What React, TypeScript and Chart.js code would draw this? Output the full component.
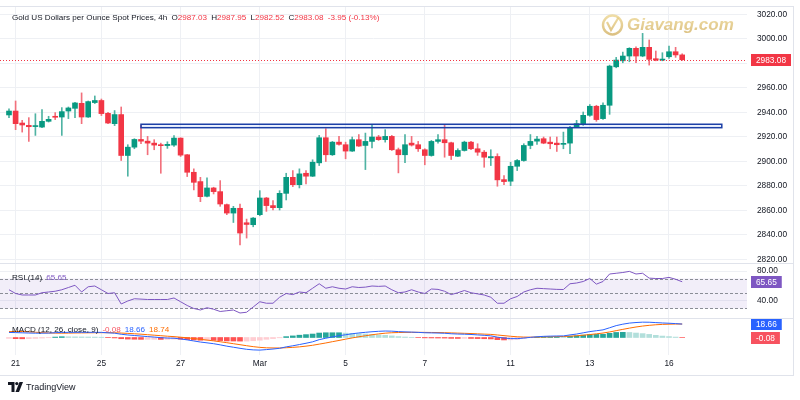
import React, { useEffect, useRef } from "react";
import { Chart, registerables } from "chart.js";

Chart.register(...registerables);

const FONT = '"Liberation Sans", Arial, sans-serif';
const TEXT = "#131722";
const GRID = "#eef0f4";
const LINE = "#e0e3eb";
const UP = "#089981";
const DOWN = "#f23645";
const UP_WICK = "#4fb3a3";
const DOWN_WICK = "#f2707c";

// ---------- DATA ----------
const opens = [
  2938.0, 2941.2, 2931.4, 2929.5, 2928.5, 2928.1, 2932.8, 2936.9, 2936.3, 2941.2,
  2943.4, 2947.5, 2936.3, 2948.1, 2949.8, 2939.3, 2930.9, 2938.3, 2904.9, 2911.7,
  2918.0, 2916.6, 2915.0, 2913.7, 2913.0, 2913.4, 2919.1, 2905.5, 2891.2, 2883.6,
  2871.6, 2878.4, 2875.4, 2864.8, 2857.9, 2861.8, 2850.0, 2848.4, 2856.6, 2870.2,
  2864.0, 2862.3, 2874.0, 2887.1, 2881.1, 2890.4, 2888.0, 2898.9, 2919.4, 2905.5,
  2915.8, 2913.7, 2908.5, 2917.8, 2913.1, 2916.4, 2920.0, 2917.8, 2920.5, 2909.6,
  2905.5, 2915.0, 2913.7, 2909.6, 2904.9, 2916.4, 2917.8, 2915.3, 2904.3, 2909.0,
  2915.8, 2910.4, 2907.6, 2903.0, 2904.1, 2885.2, 2883.9, 2896.1, 2900.8, 2913.1,
  2916.6, 2918.6, 2915.8, 2915.0, 2914.0, 2915.0, 2928.1, 2930.1, 2937.7, 2945.1,
  2935.0, 2945.9, 2977.3, 2982.2, 2986.1, 2992.4, 2986.1, 2993.2, 2983.9, 2982.8,
  2985.5, 2989.6, 2987.03,
];
const highs = [
  2942.9, 2949.4, 2933.6, 2935.8, 2939.0, 2942.4, 2936.9, 2939.9, 2944.0, 2944.5,
  2948.4, 2956.0, 2949.4, 2953.5, 2951.0, 2940.2, 2941.6, 2944.5, 2913.7, 2918.6,
  2929.5, 2920.5, 2917.8, 2915.0, 2916.1, 2921.1, 2919.3, 2905.7, 2894.0, 2887.1,
  2886.6, 2879.0, 2884.4, 2865.3, 2863.4, 2865.3, 2853.0, 2854.3, 2876.2, 2870.7,
  2868.0, 2876.2, 2890.4, 2892.6, 2894.0, 2892.6, 2901.4, 2921.3, 2926.8, 2916.4,
  2920.5, 2915.8, 2920.0, 2922.0, 2923.2, 2930.1, 2921.3, 2926.0, 2921.3, 2911.0,
  2922.0, 2920.5, 2916.4, 2910.4, 2917.2, 2922.0, 2930.3, 2915.8, 2910.4, 2916.6,
  2916.4, 2914.5, 2909.0, 2909.6, 2906.3, 2888.5, 2899.4, 2901.6, 2914.5, 2922.0,
  2920.5, 2920.0, 2920.0, 2920.0, 2924.0, 2928.7, 2933.6, 2940.4, 2946.5, 2945.9,
  2947.8, 2978.7, 2985.0, 2989.3, 2992.9, 2993.7, 3004.6, 2999.2, 2990.2, 2988.8,
  2994.3, 2993.2, 2987.95,
];
const lows = [
  2935.8, 2926.0, 2924.0, 2916.4, 2921.3, 2927.6, 2932.2, 2934.2, 2921.3, 2935.0,
  2935.8, 2930.9, 2936.0, 2947.3, 2937.5, 2930.9, 2929.3, 2900.8, 2888.0, 2910.4,
  2914.5, 2905.5, 2909.6, 2890.4, 2910.7, 2912.3, 2904.1, 2887.7, 2876.8, 2867.2,
  2871.0, 2873.5, 2863.4, 2856.6, 2850.2, 2832.0, 2837.5, 2846.7, 2855.7, 2859.3,
  2860.4, 2860.4, 2868.6, 2879.5, 2878.4, 2881.7, 2887.7, 2896.7, 2900.0, 2904.9,
  2913.4, 2902.2, 2908.2, 2912.3, 2893.4, 2911.0, 2917.2, 2915.8, 2909.0, 2890.7,
  2899.0, 2912.6, 2908.2, 2897.3, 2904.3, 2915.0, 2903.5, 2901.6, 2904.0, 2908.5,
  2909.6, 2905.0, 2895.3, 2896.7, 2879.8, 2881.1, 2880.3, 2892.6, 2900.2, 2910.4,
  2913.9, 2914.5, 2910.4, 2908.2, 2910.4, 2906.3, 2927.6, 2929.5, 2936.9, 2932.8,
  2934.4, 2938.5, 2976.5, 2980.6, 2981.4, 2980.6, 2985.5, 2978.7, 2982.2, 2982.2,
  2984.2, 2985.0, 2982.52,
];
const closes = [
  2941.2, 2930.9, 2929.8, 2928.4, 2929.0, 2932.8, 2934.4, 2936.1, 2940.7, 2943.7,
  2947.8, 2936.3, 2948.9, 2949.8, 2939.1, 2931.4, 2938.3, 2904.9, 2911.7, 2918.0,
  2916.6, 2915.0, 2913.4, 2912.9, 2914.0, 2919.1, 2905.2, 2891.2, 2883.0, 2871.3,
  2878.4, 2875.4, 2865.3, 2857.9, 2861.8, 2841.6, 2848.6, 2853.8, 2870.2, 2864.0,
  2862.3, 2874.0, 2887.1, 2881.1, 2889.9, 2888.0, 2899.4, 2919.4, 2905.5, 2915.8,
  2914.0, 2908.5, 2917.8, 2912.6, 2916.4, 2920.0, 2917.8, 2920.5, 2909.6, 2905.5,
  2913.7, 2913.4, 2910.4, 2904.9, 2916.4, 2917.8, 2915.3, 2904.9, 2909.0, 2915.8,
  2910.4, 2907.6, 2903.5, 2904.0, 2885.0, 2883.6, 2896.1, 2900.8, 2913.1, 2916.4,
  2918.3, 2915.0, 2914.5, 2913.7, 2914.8, 2927.6, 2930.9, 2937.7, 2945.1, 2934.2,
  2945.9, 2977.9, 2982.8, 2986.1, 2992.4, 2986.1, 2993.2, 2983.4, 2982.8, 2983.6,
  2989.6, 2987.0, 2983.08,
];
const rsiValues = [
  55, 50, 48, 48, 48, 51, 52, 53, 55, 58,
  61, 52, 59, 60, 55, 50, 51, 36, 40, 43,
  42.5, 42, 42, 42, 42, 44, 39, 34, 30, 28,
  31, 29, 26, 27, 28, 24, 25, 32, 39, 37,
  37, 45, 50, 48.5, 52, 51, 57, 63, 57, 59,
  57, 56, 59, 58, 58.5, 60, 59.5, 60, 55, 51,
  52, 55, 52, 50, 56, 55.5, 53, 48.5, 51, 54,
  51, 49.5, 48, 45, 37, 37, 43, 46, 52, 55,
  57, 56.5, 56, 55.5, 55.3, 63, 64, 66, 70, 62.5,
  66, 76, 77, 78, 79.5, 76, 77, 70.5, 70, 70,
  71.5, 69, 65.65,
];
const macdValues = [
  7.0, 6.8, 6.5, 6.2, 6.0, 6.0, 6.1, 6.7, 7.1, 7.1,
  7.2, 7.2, 7.2, 7.2, 7.1, 6.5, 6.0, 4.5, 3.5, 2.8,
  2.0, 1.3, 0.6, -0.2, -0.8, -1.0, -2.0, -3.3, -4.8, -6.3,
  -7.4, -8.6, -10.2, -12.0, -13.5, -15.0, -16.4, -17.2, -17.5, -16.8,
  -16.0, -15.0, -13.0, -11.5, -9.8, -8.0, -6.0, -3.0, -1.0, 0.8,
  2.5, 3.8, 5.2, 6.3, 7.2, 8.0, 8.6, 9.0, 8.8, 8.2,
  7.8, 7.5, 7.1, 6.6, 6.4, 6.2, 5.9, 5.2, 4.8, 4.6,
  4.2, 3.6, 3.0, 2.3, 0.5, -0.8, -1.5, -1.6, -0.8, 0.2,
  1.0, 1.6, 1.9, 2.1, 2.2, 3.6, 4.8, 6.5, 8.2, 9.4,
  10.6, 13.5, 16.5, 18.5, 20.0, 20.8, 21.3, 21.2, 20.7, 20.2,
  19.8, 19.3, 18.66,
];
const signalValues = [
  8.2, 8.4, 8.3, 7.8, 7.3, 6.8, 6.4, 6.1, 6.0, 6.1,
  6.3, 6.4, 6.5, 6.6, 6.7, 6.7, 6.6, 6.2, 5.7, 5.2,
  4.6, 3.9, 3.2, 2.5, 1.8, 1.2, 0.4, -0.4, -1.4, -2.5,
  -3.6, -4.7, -5.9, -7.2, -8.6, -10.0, -11.4, -12.7, -13.7, -14.3,
  -14.5, -14.6, -14.2, -13.7, -13.0, -12.0, -10.8, -9.2, -7.6, -5.8,
  -4.1, -2.3, -0.6, 1.0, 2.4, 3.8, 5.0, 6.0, 6.6, 6.9,
  7.1, 7.2, 7.2, 7.1, 7.0, 6.9, 6.7, 6.4, 6.1, 5.8,
  5.5, 5.1, 4.7, 4.3, 3.5, 2.6, 1.7, 1.0, 0.6, 0.5,
  0.6, 0.8, 1.0, 1.2, 1.4, 1.8, 2.4, 3.2, 4.1, 5.1,
  6.2, 7.7, 9.5, 11.3, 13.0, 14.6, 15.9, 16.9, 17.7, 18.2,
  18.5, 18.7, 18.74,
];
const histValues = [
  -1.2, -1.6, -1.8, -1.6, -1.3, -0.8, -0.3, 0.6, 1.1, 1.0,
  0.9, 0.8, 0.7, 0.6, 0.4, -0.2, -0.6, -1.7, -2.2, -2.4,
  -2.6, -2.6, -2.6, -2.7, -2.6, -2.2, -2.4, -2.9, -3.4, -3.8,
  -3.8, -3.9, -4.3, -4.8, -4.9, -5.0, -5.0, -4.5, -3.8, -2.5,
  -1.5, -0.4, 1.2, 2.2, 3.2, 4.0, 4.8, 6.2, 6.6, 6.6,
  6.6, 6.1, 5.8, 5.3, 4.8, 4.2, 3.6, 3.0, 2.2, 1.3,
  0.7, 0.3, -0.1, -0.5, -0.6, -0.7, -0.8, -1.2, -1.3, -1.2,
  -1.3, -1.5, -1.7, -2.0, -3.0, -3.4, -3.2, -2.6, -1.4, -0.3,
  0.4, 0.8, 0.9, 0.9, 0.8, 1.8, 2.4, 3.3, 4.1, 4.3,
  4.4, 5.8, 7.0, 7.2, 7.0, 6.2, 5.4, 4.3, 3.0, 2.0,
  1.3, 0.6, -0.08,
];
const dateTickIndex = [1, 14, 26, 38, 51, 63, 76, 88, 100];
const dateTickLabels = ["21", "25", "27", "Mar", "5", "7", "11", "13", "16"];
const priceTicks = [2820, 2840, 2860, 2880, 2900, 2920, 2940, 2960, 2980, 3000, 3020];
const rsiTicks = [40, 80];
const rsiLevels = [70, 50, 30];
const zoneStartIndex = 20;
const zoneEndIndex = 108;
const zoneTop = 2930.4;
const zoneBottom = 2927.6;
const symbolTitle = "Gold US Dollars per Ounce Spot Prices, 4h";
const priceChange = "-3.95 (-0.13%)";
const watermarkText = "Giavang.com";

// ---------- LAYOUT ----------
const PLOT_RIGHT = 747;
const STEP = 6.6;
const X_MIN = -9 / STEP;
const X_MAX = X_MIN + PLOT_RIGHT / STEP;
const LAST = closes.length - 1;

const fmt = (v: number) => v.toFixed(2);

function xAxis(showLabels: boolean): any {
  return {
    type: "linear",
    position: "bottom",
    min: X_MIN,
    max: X_MAX,
    offset: false,
    grid: { color: GRID, drawTicks: false, lineWidth: 1, offset: false },
    border: { display: false },
    ticks: showLabels
      ? {
          display: true,
          font: { family: FONT, size: 8.3 },
          color: TEXT,
          padding: 4,
          maxRotation: 0,
          autoSkip: false,
          callback: (v: number) => {
            const k = dateTickIndex.indexOf(v);
            return k >= 0 ? dateTickLabels[k] : "";
          },
        }
      : { display: false },
    afterBuildTicks: (s: any) => {
      s.ticks = dateTickIndex.map((v) => ({ value: v }));
    },
    afterFit: (s: any) => {
      s.height = showLabels ? 20 : 0;
      s.paddingLeft = 0;
      s.paddingRight = 0;
    },
  };
}

function yAxis(min: number, max: number, ticks: number[], showLabels: boolean, showGrid: boolean): any {
  return {
    type: "linear",
    position: "right",
    min,
    max,
    grid: { display: showGrid, color: GRID, drawTicks: false },
    border: { display: false },
    ticks: {
      display: showLabels,
      font: { family: FONT, size: 8.3 },
      color: TEXT,
      padding: 10,
      callback: (v: number) => fmt(Number(v)),
    },
    afterBuildTicks: (s: any) => {
      s.ticks = ticks.map((v) => ({ value: v }));
    },
    afterFit: (s: any) => {
      s.width = 800 - PLOT_RIGHT;
      s.paddingTop = 0;
      s.paddingBottom = 0;
    },
  };
}

function drawTag(ctx: CanvasRenderingContext2D, y: number, text: string, bg: string) {
  ctx.save();
  ctx.font = `8.3px ${FONT}`;
  const w = ctx.measureText(text).width + 10;
  const h = 12;
  ctx.fillStyle = bg;
  ctx.fillRect(PLOT_RIGHT + 4, Math.round(y - h / 2), w, h);
  ctx.fillStyle = "#ffffff";
  ctx.textBaseline = "middle";
  ctx.textAlign = "left";
  ctx.fillText(text, PLOT_RIGHT + 9, Math.round(y - h / 2) + h / 2 + 0.5);
  ctx.restore();
}

const basePlugins = {
  legend: { display: false },
  tooltip: { enabled: false },
  title: { display: false },
};

function priceConfig(): any {
  const idx = closes.map((_, i) => i);
  const up = idx.map((i) => closes[i] >= opens[i]);
  const decor = {
    id: "priceDecor",
    beforeDatasetsDraw(chart: any) {
      const { ctx } = chart;
      ctx.save();
      ctx.globalAlpha = 0.72;
      const grad = ctx.createLinearGradient(0, 12, 0, 38);
      grad.addColorStop(0, "#efd78c");
      grad.addColorStop(1, "#c9a24a");
      ctx.strokeStyle = grad;
      ctx.fillStyle = grad;
      ctx.lineWidth = 2.4;
      ctx.beginPath();
      ctx.arc(612.5, 25, 9.5, 0, Math.PI * 2);
      ctx.stroke();
      ctx.lineWidth = 2.2;
      ctx.beginPath();
      ctx.moveTo(607, 22);
      ctx.lineTo(611, 30);
      ctx.lineTo(618.5, 17.5);
      ctx.stroke();
      ctx.font = `italic bold 17px ${FONT}`;
      ctx.textBaseline = "middle";
      ctx.textAlign = "left";
      ctx.fillText(watermarkText, 627, 25.5);
      ctx.restore();
    },
    afterDatasetsDraw(chart: any) {
      const { ctx, chartArea } = chart;
      const x = chart.scales.x;
      const y = chart.scales.y;
      const x0 = x.getPixelForValue(zoneStartIndex);
      const x1 = x.getPixelForValue(zoneEndIndex);
      const y0 = y.getPixelForValue(zoneTop);
      const y1 = y.getPixelForValue(zoneBottom);
      ctx.save();
      ctx.fillStyle = "rgba(41,98,255,0.08)";
      ctx.fillRect(x0, y0, x1 - x0, y1 - y0);
      ctx.strokeStyle = "#1c3fa6";
      ctx.lineWidth = 1.5;
      ctx.strokeRect(x0, y0, x1 - x0, y1 - y0);
      const yl = Math.round(y.getPixelForValue(closes[LAST])) + 0.5;
      ctx.strokeStyle = DOWN;
      ctx.lineWidth = 1;
      ctx.setLineDash([1, 2]);
      ctx.beginPath();
      ctx.moveTo(chartArea.left, yl);
      ctx.lineTo(chartArea.right, yl);
      ctx.stroke();
      ctx.restore();
    },
    afterDraw(chart: any) {
      const y = chart.scales.y;
      drawTag(chart.ctx, y.getPixelForValue(closes[LAST]), fmt(closes[LAST]), DOWN);
    },
  };
  return {
    type: "bar",
    data: {
      datasets: [
        {
          label: "body",
          data: idx.map((i) => ({ x: i, y: [opens[i], closes[i]] })),
          backgroundColor: up.map((u) => (u ? UP : DOWN)),
          barThickness: 5,
          minBarLength: 1,
          grouped: false,
          borderWidth: 0,
        },
        {
          label: "wick",
          data: idx.map((i) => ({ x: i, y: [lows[i], highs[i]] })),
          backgroundColor: up.map((u) => (u ? UP_WICK : DOWN_WICK)),
          barThickness: 1,
          grouped: false,
          borderWidth: 0,
        },
      ],
    },
    options: {
      responsive: false,
      animation: false,
      events: [],
      layout: { padding: { top: 7, left: 0, right: 0, bottom: 0 } },
      plugins: basePlugins,
      scales: {
        x: xAxis(false),
        y: yAxis(2817.14, 3026.12, priceTicks, true, true),
      },
    },
    plugins: [decor],
  };
}

function rsiConfig(): any {
  const decor = {
    id: "rsiDecor",
    beforeDatasetsDraw(chart: any) {
      const { ctx, chartArea } = chart;
      const y = chart.scales.y;
      const yTop = y.getPixelForValue(rsiLevels[0]);
      const yBot = y.getPixelForValue(rsiLevels[2]);
      ctx.save();
      ctx.fillStyle = "rgba(126,87,194,0.1)";
      ctx.fillRect(chartArea.left, yTop, chartArea.right - chartArea.left, yBot - yTop);
      ctx.strokeStyle = "#8a8d96";
      ctx.lineWidth = 1;
      ctx.setLineDash([3, 2]);
      rsiLevels.forEach((lv) => {
        const yy = Math.round(y.getPixelForValue(lv)) + 0.5;
        ctx.beginPath();
        ctx.moveTo(chartArea.left, yy);
        ctx.lineTo(chartArea.right, yy);
        ctx.stroke();
      });
      ctx.restore();
    },
    afterDraw(chart: any) {
      const y = chart.scales.y;
      drawTag(chart.ctx, y.getPixelForValue(rsiValues[LAST]), fmt(rsiValues[LAST]), "#7e57c2");
    },
  };
  return {
    type: "line",
    data: {
      datasets: [
        {
          label: "RSI",
          data: rsiValues.map((v, i) => ({ x: i, y: v })),
          borderColor: "#7e57c2",
          borderWidth: 1,
          pointRadius: 0,
          tension: 0,
        },
      ],
    },
    options: {
      responsive: false,
      animation: false,
      events: [],
      layout: { padding: 0 },
      plugins: basePlugins,
      scales: {
        x: xAxis(false),
        y: yAxis(17.33, 90.67, rsiTicks, true, true),
      },
    },
    plugins: [decor],
  };
}

function macdConfig(): any {
  const histColors = histValues.map((v, i) => {
    const prev = i > 0 ? histValues[i - 1] : v;
    if (v >= 0) return v >= prev ? "#26a69a" : "#b2dfdb";
    return v < prev ? "#ff5252" : "#ffcdd2";
  });
  const decor = {
    id: "macdDecor",
    afterDraw(chart: any) {
      const y = chart.scales.y;
      drawTag(chart.ctx, y.getPixelForValue(macdValues[LAST]), fmt(macdValues[LAST]), "#2962ff");
      drawTag(chart.ctx, y.getPixelForValue(histValues[LAST]), fmt(histValues[LAST]), "#f7525f");
    },
  };
  return {
    type: "bar",
    data: {
      datasets: [
        {
          type: "line",
          label: "MACD",
          data: macdValues.map((v, i) => ({ x: i, y: v })),
          borderColor: "#2962ff",
          borderWidth: 1,
          pointRadius: 0,
        },
        {
          type: "line",
          label: "Signal",
          data: signalValues.map((v, i) => ({ x: i, y: v })),
          borderColor: "#ff6d00",
          borderWidth: 1,
          pointRadius: 0,
        },
        {
          type: "bar",
          label: "Histogram",
          data: histValues.map((v, i) => ({ x: i, y: v })),
          backgroundColor: histColors,
          barThickness: 5,
          grouped: false,
          borderWidth: 0,
        },
      ],
    },
    options: {
      responsive: false,
      animation: false,
      events: [],
      layout: { padding: 0 },
      plugins: basePlugins,
      scales: {
        x: xAxis(true),
        y: yAxis(-24.3, 27.08, [], false, false),
      },
    },
    plugins: [decor],
  };
}

const hLine = (top: number, width: number): React.CSSProperties => ({
  position: "absolute",
  left: 0,
  top,
  width,
  height: 1,
  background: LINE,
});

export default function App() {
  const priceRef = useRef<HTMLCanvasElement>(null);
  const rsiRef = useRef<HTMLCanvasElement>(null);
  const macdRef = useRef<HTMLCanvasElement>(null);

  useEffect(() => {
    document.body.style.margin = "0";
    Chart.defaults.font.family = FONT;
    const charts = [
      new Chart(priceRef.current as HTMLCanvasElement, priceConfig()),
      new Chart(rsiRef.current as HTMLCanvasElement, rsiConfig()),
      new Chart(macdRef.current as HTMLCanvasElement, macdConfig()),
    ];
    return () => charts.forEach((c) => c.destroy());
  }, []);

  const small: React.CSSProperties = {
    position: "absolute",
    fontSize: 8.1,
    lineHeight: "12px",
    color: TEXT,
    whiteSpace: "nowrap",
    fontFamily: FONT,
  };

  return (
    <div style={{ position: "relative", width: 800, height: 400, background: "#fff", overflow: "hidden", fontFamily: FONT }}>
      <canvas ref={priceRef} width={800} height={263} style={{ position: "absolute", left: 0, top: 0 }} />
      <canvas ref={rsiRef} width={800} height={55} style={{ position: "absolute", left: 0, top: 263 }} />
      <canvas ref={macdRef} width={800} height={57} style={{ position: "absolute", left: 0, top: 318 }} />

      <div style={hLine(6, 793)} />
      <div style={hLine(263, 793)} />
      <div style={hLine(318, 793)} />
      <div style={hLine(375, 793)} />
      <div style={{ position: "absolute", left: 793, top: 6, width: 1, height: 370, background: LINE }} />

      <div style={{ ...small, left: 12, top: 12, display: "flex", gap: 4.2 }}>
        <span>{symbolTitle}</span>
        <span>O<span style={{ color: DOWN }}>{fmt(opens[LAST])}</span></span>
        <span>H<span style={{ color: DOWN }}>{fmt(highs[LAST])}</span></span>
        <span>L<span style={{ color: DOWN }}>{fmt(lows[LAST])}</span></span>
        <span>C<span style={{ color: DOWN }}>{fmt(closes[LAST])}</span></span>
        <span style={{ color: DOWN }}>{priceChange}</span>
      </div>

      <div style={{ ...small, left: 12, top: 272, display: "flex", gap: 4 }}>
        <span>RSI (14)</span>
        <span style={{ color: "#7e57c2" }}>{fmt(rsiValues[LAST])}</span>
      </div>

      <div style={{ ...small, left: 12, top: 324, display: "flex", gap: 4 }}>
        <span>MACD (12, 26, close, 9)</span>
        <span style={{ color: "#f7525f" }}>{fmt(histValues[LAST])}</span>
        <span style={{ color: "#2962ff" }}>{fmt(macdValues[LAST])}</span>
        <span style={{ color: "#ff6d00" }}>{fmt(signalValues[LAST])}</span>
      </div>

      <div style={{ position: "absolute", left: 8, top: 381, display: "flex", alignItems: "center", gap: 3 }}>
        <svg width="15" height="10" viewBox="0 0 15 10">
          <path d="M0 0h6.5v10H3.5V3H0z" fill={TEXT} />
          <circle cx="8.8" cy="1.6" r="1.6" fill={TEXT} />
          <path d="M11.5 0h3.5l-4 10H7.5z" fill={TEXT} />
        </svg>
        <span style={{ fontSize: 9, color: TEXT, lineHeight: "12px" }}>TradingView</span>
      </div>
    </div>
  );
}
